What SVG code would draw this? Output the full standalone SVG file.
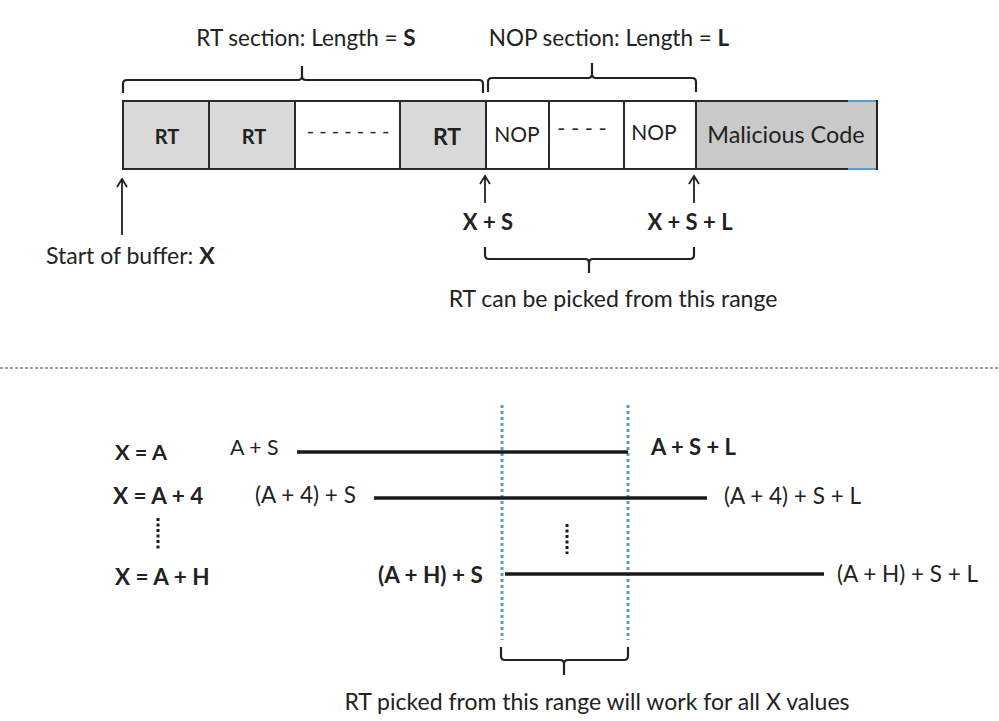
<svg xmlns="http://www.w3.org/2000/svg" width="999" height="721" viewBox="0 0 999 721">
<style>
text{font-family:Lato,"Liberation Sans",sans-serif;fill:#222;font-size:22.5px}
.b{font-weight:bold}
.cell{stroke:#2a2a2a;stroke-width:2}
.brace{fill:none;stroke:#222;stroke-width:2.2;stroke-linejoin:round}
.arr{stroke:#222;stroke-width:1.8;fill:none}
.seg{stroke:#1a1a1a;stroke-width:3.5}
.blue{stroke:#5b9bd5;stroke-width:3;stroke-dasharray:3 3}
.dots{stroke:#1a1a1a;stroke-width:3;stroke-dasharray:3 2.5}
</style>
<rect width="999" height="721" fill="#fff"/>
<g id="titles">
<text x="306" y="46" text-anchor="middle">RT section: Length = <tspan class="b">S</tspan></text>
<text x="609" y="46" text-anchor="middle">NOP section: Length = <tspan class="b">L</tspan></text>
</g>
<g id="buffer">
<rect class="cell" x="123" y="101" width="86" height="68" fill="#d9d9d9"/>
<rect class="cell" x="209" y="101" width="86" height="68" fill="#d9d9d9"/>
<rect class="cell" x="295" y="101" width="105" height="68" fill="#fff"/>
<rect class="cell" x="400" y="101" width="86" height="68" fill="#d9d9d9"/>
<rect class="cell" x="486" y="101" width="63" height="68" fill="#fff"/>
<rect class="cell" x="549" y="101" width="75" height="68" fill="#fff"/>
<rect class="cell" x="624" y="101" width="72" height="68" fill="#fff"/>
<rect x="696" y="101" width="181" height="68" fill="#c9c9c9"/>
<path d="M696 101H848M696 169H848" stroke="#2a2a2a" stroke-width="2"/>
<path d="M848 101H877M848 169H877" stroke="#5b9bd5" stroke-width="2"/>
<path d="M877 100V170" stroke="#222" stroke-width="2"/>
<path d="M696 101V169" stroke="#2a2a2a" stroke-width="2"/>
<text class="b" x="167" y="144" text-anchor="middle" style="font-size:20px">RT</text>
<text class="b" x="254" y="144" text-anchor="middle" style="font-size:20px">RT</text>
<text x="348" y="138" text-anchor="middle" style="font-size:20px">- - - - - - -</text>
<text class="b" x="447" y="145" text-anchor="middle" style="font-size:23px">RT</text>
<text x="517" y="142" text-anchor="middle" style="font-size:21px">NOP</text>
<text x="582" y="136" text-anchor="middle" style="font-size:22px">- - - -</text>
<text x="654" y="140" text-anchor="middle" style="font-size:21px">NOP</text>
<text x="786" y="143" text-anchor="middle" style="font-size:23.4px">Malicious Code</text>
</g>
<g id="braces">
<path class="brace" d="M123 93V84Q123 80 127 80H298Q302 80 302 76V66M302 76Q302 80 306 80H479Q483 80 483 84V93"/>
<path class="brace" d="M488 92V82Q488 78 492 78H588Q592 78 592 74V63M592 74Q592 78 596 78H692Q696 78 696 82V92"/>
<path class="brace" d="M485 247V255Q485 259 489 259H585Q589 259 589 263V273M589 263Q589 259 593 259H690Q694 259 694 255V247"/>
<path class="brace" d="M501 647V656Q501 660 505 660H560Q564 660 564 664V675M564 664Q564 660 568 660H624Q628 660 628 656V647"/>
</g>
<g id="arrows">
<path class="arr" d="M122 235V179M117 187L122 179L127 187"/>
<path class="arr" d="M485 203V176M480 184L485 176L490 184"/>
<path class="arr" d="M694 203V176M689 184L694 176L699 184"/>
</g>
<g id="labels-top">
<text x="46" y="264" style="font-size:23px">Start of buffer: <tspan class="b">X</tspan></text>
<text class="b" x="488" y="230" text-anchor="middle" style="font-size:22px">X + S</text>
<text class="b" x="690" y="230" text-anchor="middle" style="font-size:22px">X + S + L</text>
<text x="613" y="307" text-anchor="middle" style="font-size:23px">RT can be picked from this range</text>
</g>
<line x1="0" y1="368" x2="999" y2="368" stroke="#444" stroke-width="1.2" stroke-dasharray="3 2"/>
<g id="ranges">
<line class="blue" x1="502" y1="405" x2="502" y2="640"/>
<line class="blue" x1="628" y1="405" x2="628" y2="640"/>
<line class="seg" x1="297" y1="452" x2="628" y2="452"/>
<line class="seg" x1="374" y1="498" x2="707" y2="498"/>
<line class="seg" x1="505" y1="574" x2="824" y2="574"/>
<line class="dots" x1="158" y1="518" x2="158" y2="549"/>
<line class="dots" x1="567" y1="524" x2="567" y2="554"/>
</g>
<g id="labels-bottom">
<text class="b" x="115" y="460" style="font-size:21.7px">X = A</text>
<text class="b" x="113" y="504">X = A + 4</text>
<text class="b" x="115" y="585">X = A + H</text>
<text x="230" y="455" style="font-size:21.3px">A + S</text>
<text x="255" y="503">(A + 4) + S</text>
<text class="b" x="378" y="583">(A + H) + S</text>
<text class="b" x="651" y="455" style="font-size:22px">A + S + L</text>
<text x="724" y="504">(A + 4) + S + L</text>
<text x="837" y="582">(A + H) + S + L</text>
<text x="597" y="710" text-anchor="middle" style="font-size:23px">RT picked from this range will work for all X values</text>
</g>
</svg>
